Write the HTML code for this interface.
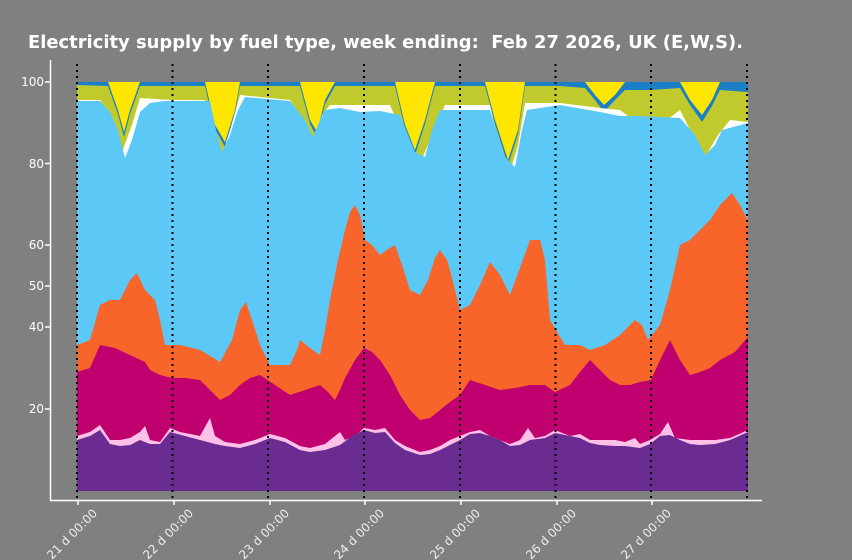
<!DOCTYPE html>
<html><head><meta charset="utf-8"><style>
body{margin:0;background:#808080;width:852px;height:560px;overflow:hidden}
svg{display:block}
text{font-family:"DejaVu Sans","Liberation Sans",sans-serif}
</style></head><body>
<svg width="852" height="560" viewBox="0 0 852 560">
<rect width="852" height="560" fill="#808080"/>
<text x="28" y="48" fill="#fff" font-size="18" font-weight="bold" textLength="715" lengthAdjust="spacingAndGlyphs" xml:space="preserve">Electricity supply by fuel type, week ending:  Feb 27 2026, UK (E,W,S).</text>
<rect x="77" y="82" width="671" height="409" fill="#ffe600"/>
<polygon fill="#1a7fc6" points="77,82 108,82 118,110 124,132 130,110 140,82 205,82 215,125 225,142 235,110 240,82 300,82 310,120 317,132 325,100 335,82 395,82 405,125 415,150 425,120 435,82 485,82 495,120 508,160 518,130 525,82 585,82 595,95 604,105 615,95 625,82 680,82 690,100 702,115 712,100 720,82 748,82 748,491 77,491"/>
<polygon fill="#c0ca2c" points="77,85 108,86 118,114 124,137 130,114 140,86 205,86 215,129 225,147 235,114 240,86 300,86 310,124 317,137 325,104 335,86 395,86 405,129 415,155 425,124 435,86 485,86 495,124 508,165 518,134 525,86 560,86 585,88 595,100 604,112 615,100 625,90 650,90 680,88 690,105 702,122 712,106 720,90 748,92 748,491 77,491"/>
<polygon fill="#ffffff" points="77,100 100,100 110,115 122,152 132,125 140,98 172,100 205,100 215,140 222,155 230,130 240,95 290,100 305,125 313,138 322,115 330,105 364,105 390,105 405,140 418,168 430,140 445,105 490,105 500,150 508,178 518,145 525,103 560,103 600,108 620,110 640,125 660,125 680,110 695,140 705,157 718,135 730,120 748,122 748,491 77,491"/>
<polygon fill="#5bc8f5" points="77,101 100,101 110,112 118,130 125,158 132,140 140,112 150,103 165,101 210,101 216,130 222,152 230,135 238,110 245,97 290,101 305,120 313,137 320,120 325,110 340,108 360,112 380,111 400,115 408,135 415,152 425,157 432,130 440,110 490,110 498,135 505,157 515,167 522,130 527,110 560,105 600,112 620,116 640,116 680,118 695,135 705,155 715,145 722,130 748,123 748,491 77,491"/>
<polygon fill="#f8652a" points="77,345 90,340 100,305 110,300 120,300 130,280 137,273 145,290 155,300 160,320 165,345 180,345 200,350 220,362 232,340 240,310 246,302 252,320 260,345 270,365 290,365 297,350 300,340 310,348 320,355 325,330 330,300 338,260 345,230 350,212 355,205 360,215 365,240 372,245 380,255 387,250 395,245 402,265 410,290 420,295 428,280 435,258 440,250 447,260 450,270 460,310 470,305 480,285 490,262 500,275 510,295 520,268 530,240 540,240 545,260 550,320 565,345 580,345 590,350 605,345 620,335 635,320 642,325 648,340 660,325 670,290 680,245 690,240 700,230 710,220 720,205 732,193 740,205 748,220 748,491 77,491"/>
<polygon fill="#c0006f" points="77,372 90,368 100,345 115,348 130,355 145,362 150,370 160,375 172,378 185,378 200,380 210,390 220,400 230,395 240,385 250,378 260,375 275,385 290,395 305,390 320,385 328,392 335,400 340,390 345,378 355,360 364,348 372,352 380,360 390,375 400,395 410,410 420,420 430,418 440,410 450,402 460,395 470,380 485,385 500,390 515,388 530,385 545,385 555,392 570,385 580,372 590,360 600,370 610,380 620,385 630,385 640,382 651,380 660,360 670,340 680,360 690,375 700,372 710,368 720,360 735,352 748,337 748,491 77,491"/>
<polygon fill="#ffc0e8" points="77,436 90,432 100,425 110,440 120,440 130,438 140,432 145,426 150,440 160,442 170,428 180,432 200,436 210,418 215,436 225,442 240,444 255,440 270,434 285,438 300,446 310,448 325,444 340,432 345,440 355,436 364,428 375,430 385,428 395,440 405,446 420,452 430,450 440,446 450,440 460,436 470,432 480,430 490,436 500,440 510,444 520,440 528,428 535,438 545,436 555,430 570,436 580,434 590,440 600,440 615,440 625,442 635,438 640,444 650,440 660,434 668,422 675,438 690,440 700,440 715,440 730,438 748,430 748,491 77,491"/>
<polygon fill="#6b2c91" points="77,440 90,436 100,430 110,444 120,446 130,445 140,440 150,444 160,444 170,432 185,436 200,440 215,444 225,446 240,448 255,444 270,438 285,442 300,450 310,452 325,450 340,445 352,436 364,430 375,433 385,432 395,443 405,450 420,455 430,454 440,450 450,445 460,440 470,434 480,433 490,436 500,440 510,446 520,445 530,440 545,438 555,433 570,436 580,438 590,443 600,445 615,446 625,446 640,448 650,444 660,436 670,435 680,440 690,444 700,445 715,444 730,440 748,432 748,491 77,491"/>
<g stroke="#000" stroke-width="2" stroke-dasharray="2,4">
<line x1="77" y1="64" x2="77" y2="500"/><line x1="172.5" y1="64" x2="172.5" y2="500"/><line x1="268" y1="64" x2="268" y2="500"/><line x1="364" y1="64" x2="364" y2="500"/><line x1="460" y1="64" x2="460" y2="500"/><line x1="555.5" y1="64" x2="555.5" y2="500"/><line x1="651" y1="64" x2="651" y2="500"/><line x1="747" y1="64" x2="747" y2="500"/>
</g>
<g stroke="#fff" stroke-width="1.5">
<line x1="50.5" y1="60" x2="50.5" y2="500"/><line x1="50" y1="500.5" x2="762" y2="500.5"/>
<line x1="45" y1="82" x2="50" y2="82"/><line x1="45" y1="163.5" x2="50" y2="163.5"/><line x1="45" y1="245" x2="50" y2="245"/><line x1="45" y1="286" x2="50" y2="286"/><line x1="45" y1="327" x2="50" y2="327"/><line x1="45" y1="409" x2="50" y2="409"/>
<line x1="78" y1="500" x2="78" y2="505"/><line x1="174" y1="500" x2="174" y2="505"/><line x1="270" y1="500" x2="270" y2="505"/><line x1="365" y1="500" x2="365" y2="505"/><line x1="461" y1="500" x2="461" y2="505"/><line x1="557" y1="500" x2="557" y2="505"/><line x1="652" y1="500" x2="652" y2="505"/>
</g>
<g fill="#fff" font-size="12" text-anchor="end">
<text x="44" y="86">100</text><text x="44" y="168">80</text><text x="44" y="249">60</text><text x="44" y="290">50</text><text x="44" y="331">40</text><text x="44" y="413">20</text>
</g>
<g fill="#eee" font-size="12" text-anchor="end">
<text transform="translate(98,514) rotate(-45)">21 d 00:00</text>
<text transform="translate(194,514) rotate(-45)">22 d 00:00</text>
<text transform="translate(290,514) rotate(-45)">23 d 00:00</text>
<text transform="translate(385,514) rotate(-45)">24 d 00:00</text>
<text transform="translate(481,514) rotate(-45)">25 d 00:00</text>
<text transform="translate(577,514) rotate(-45)">26 d 00:00</text>
<text transform="translate(672,514) rotate(-45)">27 d 00:00</text>
</g>
</svg>
</body></html>
